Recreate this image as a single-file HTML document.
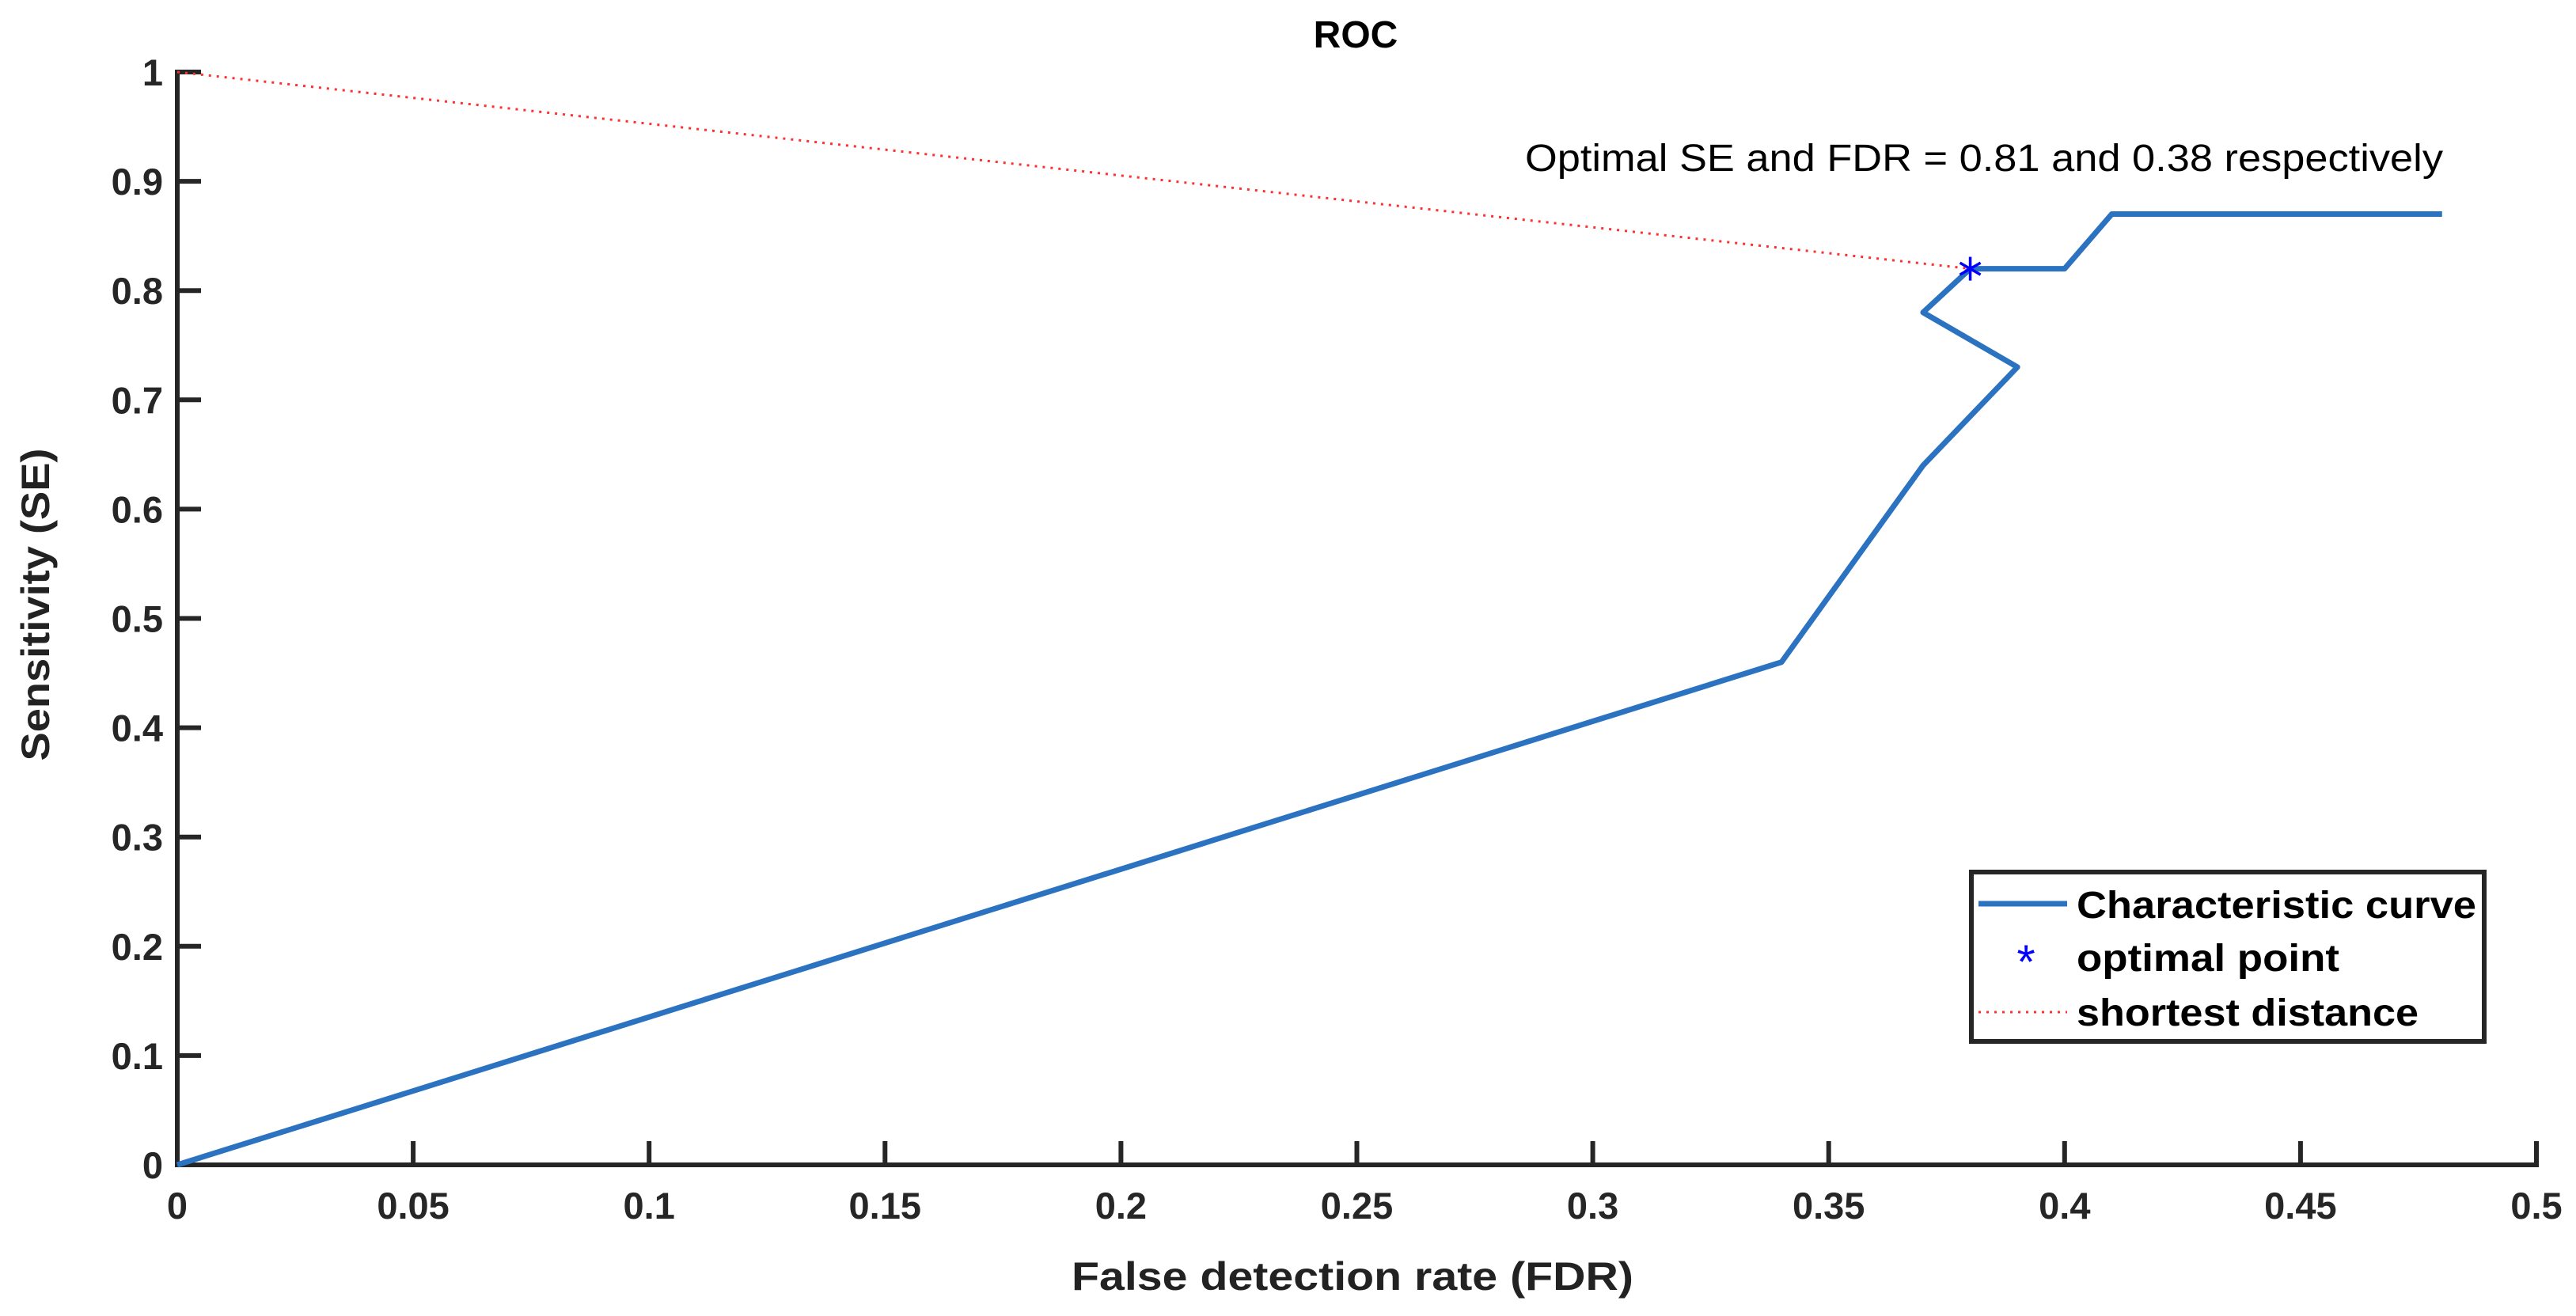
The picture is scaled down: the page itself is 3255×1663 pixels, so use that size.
<!DOCTYPE html>
<html><head><meta charset="utf-8"><style>
html,body{margin:0;padding:0;background:#fff;}
svg text{font-family:"Liberation Sans",Arial,sans-serif;}
</style></head><body>
<svg id="chart" width="3255" height="1658" viewBox="0 0 3255 1658" xmlns="http://www.w3.org/2000/svg">
<rect width="3255" height="1658" fill="#fff"/>
<text x="1713" y="60" font-size="48" font-weight="bold" text-anchor="middle" fill="#000">ROC</text>
<g id="grid"></g>
<g id="axes"></g>
<g id="series"></g>
<text x="1927" y="216" font-size="48" fill="#000" textLength="1160" lengthAdjust="spacingAndGlyphs">Optimal SE and FDR = 0.81 and 0.38 respectively</text>
<text x="1709" y="1630" font-size="50" font-weight="bold" text-anchor="middle" fill="#222" textLength="710" lengthAdjust="spacingAndGlyphs">False detection rate (FDR)</text>
<text x="62" y="764" font-size="50" font-weight="bold" text-anchor="middle" fill="#222" transform="rotate(-90 62 764)" textLength="395" lengthAdjust="spacingAndGlyphs">Sensitivity (SE)</text>
<g>
<rect x="2491" y="1102" width="648" height="214" fill="#fff" stroke="#262626" stroke-width="6"/>
<line x1="2500" y1="1142" x2="2612" y2="1142" stroke="#2b72c0" stroke-width="7"/>
<text x="2624" y="1160" font-size="48" font-weight="bold" fill="#000" textLength="505" lengthAdjust="spacingAndGlyphs">Characteristic curve</text>
<text x="2560" y="1236" font-size="60" fill="#0000ff" text-anchor="middle">*</text>
<text x="2624" y="1227" font-size="48" font-weight="bold" fill="#000" textLength="332" lengthAdjust="spacingAndGlyphs">optimal point</text>
<line x1="2500" y1="1279" x2="2612" y2="1279" stroke="#ff3030" stroke-width="3" stroke-dasharray="3 7"/>
<text x="2624" y="1296" font-size="48" font-weight="bold" fill="#000" textLength="432" lengthAdjust="spacingAndGlyphs">shortest distance</text>
</g>
</svg>
<script>
const xTicks = [0,0.05,0.1,0.15,0.2,0.25,0.3,0.35,0.4,0.45,0.5];
const xTickLabels = ["0","0.05","0.1","0.15","0.2","0.25","0.3","0.35","0.4","0.45","0.5"];
const yTicks = [0,0.1,0.2,0.3,0.4,0.5,0.6,0.7,0.8,0.9,1];
const yTickLabels = ["0","0.1","0.2","0.3","0.4","0.5","0.6","0.7","0.8","0.9","1"];
const curveFDR = [0,0.34,0.37,0.39,0.37,0.38,0.40,0.41,0.48];
const curveSE = [0,0.46,0.64,0.73,0.78,0.82,0.82,0.87,0.87];
const optimalPoint = [0.38,0.82];
const distanceStart = [0,1];

const X0=224, X1=3205, Y0=1472, Y1=91;
function sx(v){return X0+(v-0)/(0.5-0)*(X1-X0);}
function sy(v){return Y0-(v-0)/(1-0)*(Y0-Y1);}
const NS="http://www.w3.org/2000/svg";
function mk(tag,attrs,parent){const e=document.createElementNS(NS,tag);for(const k in attrs)e.setAttribute(k,attrs[k]);parent.appendChild(e);return e;}
const axes=document.getElementById('axes');
const series=document.getElementById('series');

let e=mk('line',{x1:X0-3,y1:Y0,x2:X1+3,y2:Y0,stroke:'#262626','stroke-width':6},axes);


e=mk('line',{x1:X0,y1:Y0+3,x2:X0,y2:Y1-3,stroke:'#262626','stroke-width':6},axes);



xTicks.forEach((t,i)=>{
  const x=sx(t);
  let tk=mk('line',{x1:x,y1:Y0,x2:x,y2:Y0-30,stroke:'#262626','stroke-width':6},axes);
  
  
  let lb=mk('text',{x:x,y:Y0+68,'font-size':47,'font-weight':'bold','text-anchor':'middle',fill:'#262626'},axes);
  lb.textContent=xTickLabels[i];
  
  
});
yTicks.forEach((t,i)=>{
  const y=sy(t);
  let tk=mk('line',{x1:X0,y1:y,x2:X0+30,y2:y,stroke:'#262626','stroke-width':6},axes);
  
  
  let lb=mk('text',{x:X0-18,y:y+17,'font-size':47,'font-weight':'bold','text-anchor':'end',fill:'#262626'},axes);
  lb.textContent=yTickLabels[i];
  
  
});

let d=mk('line',{x1:sx(distanceStart[0]),y1:sy(distanceStart[1]),x2:sx(optimalPoint[0]),y2:sy(optimalPoint[1]),stroke:'#ff3030','stroke-width':3,'stroke-dasharray':'3 7'},series);



const pts=curveFDR.map((v,i)=>sx(v)+','+sy(curveSE[i])).join(' ');
let c=mk('polyline',{points:pts,fill:'none',stroke:'#2b72c0','stroke-width':7,'stroke-linejoin':'round'},series);



const ox=sx(optimalPoint[0]), oy=sy(optimalPoint[1]);
let g=mk('g',{stroke:'#0000ff','stroke-width':3.5},series);


[[0,-15,0,15],[-13,-7.5,13,7.5],[-13,7.5,13,-7.5]].forEach(s=>{mk('line',{x1:ox+s[0],y1:oy+s[1],x2:ox+s[2],y2:oy+s[3]},g);});
</script>
</body></html>
